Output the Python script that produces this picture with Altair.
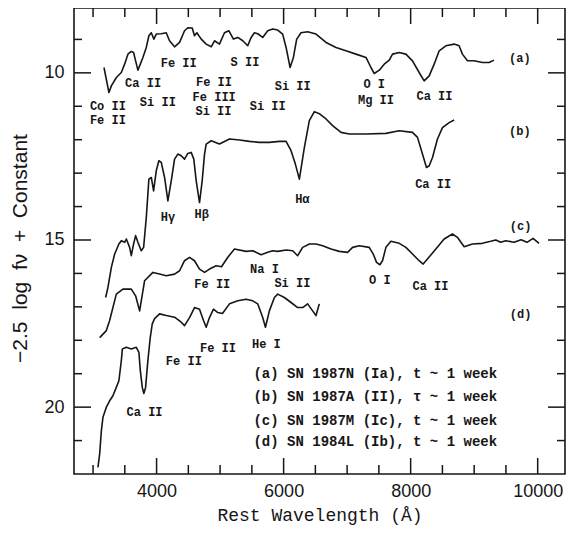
import altair as alt
import pandas as pd

# ---------------- spectra (rest wavelength in Angstrom, -2.5 log f_nu + const) -------------
a_wave = [3172, 3250, 3288, 3367, 3445, 3497, 3549, 3602, 3638, 3670, 3706, 3744, 3785, 3838, 3879, 3917, 3958, 3995, 4074, 4152,
          4204, 4283, 4362, 4440, 4492, 4561, 4597, 4634, 4703, 4781, 4860, 4912, 4990, 5069, 5137, 5210, 5278, 5357, 5435, 5489,
          5541, 5592, 5671, 5750, 5828, 5907, 5985, 6039, 6102, 6154, 6206, 6275, 6378, 6510, 6668, 6825, 6982, 7139, 7297, 7375,
          7427, 7506, 7584, 7663, 7715, 7820, 7925, 8029, 8134, 8213, 8292, 8370, 8449, 8554, 8685, 8763, 8815, 8894, 8999, 9129,
          9235, 9313]
a_mag = [9.84, 10.59, 10.39, 10.14, 9.99, 9.74, 9.44, 9.36, 9.39, 9.64, 9.92, 9.74, 9.54, 9.24, 8.89, 8.80, 8.99, 8.84, 8.83, 8.80,
         9.04, 9.22, 9.09, 8.74, 8.65, 8.66, 8.89, 8.80, 8.99, 9.14, 9.22, 9.04, 9.14, 8.80, 8.74, 8.99, 8.94, 9.04, 9.19, 8.94,
         8.80, 8.83, 8.94, 8.74, 8.69, 8.72, 8.84, 9.24, 9.84, 9.54, 8.99, 8.80, 8.77, 8.84, 9.09, 9.24, 9.34, 9.44, 9.54, 9.84,
         10.02, 9.92, 9.74, 9.62, 9.44, 9.39, 9.44, 9.64, 9.99, 10.24, 10.09, 9.74, 9.34, 9.19, 9.14, 9.19, 9.44, 9.64, 9.64, 9.69,
         9.69, 9.62]

b_wave = [3198, 3234, 3288, 3340, 3407, 3445, 3497, 3524, 3576, 3602, 3638, 3670, 3706, 3759, 3796, 3838, 3879, 3917, 3953, 3995,
          4036, 4074, 4126, 4178, 4231, 4283, 4335, 4388, 4440, 4492, 4545, 4586, 4624, 4676, 4718, 4755, 4781, 4860, 4990, 5148,
          5305, 5462, 5619, 5776, 5934, 6039, 6117, 6185, 6248, 6327, 6405, 6484, 6562, 6668, 6771, 6904, 7034, 7297, 7611, 7820,
          8029, 8108, 8186, 8249, 8292, 8344, 8422, 8501, 8606, 8685]
b_mag = [16.72, 16.42, 15.82, 15.42, 15.12, 15.02, 15.07, 14.97, 15.22, 15.47, 15.12, 14.87, 15.07, 15.32, 15.22, 14.33, 13.18, 13.13, 13.53, 12.93,
         12.63, 12.68, 13.13, 13.83, 13.23, 12.58, 12.43, 12.48, 12.58, 12.41, 12.38, 12.58, 13.23, 13.88, 13.23, 12.43, 12.13, 12.03, 12.13, 11.98,
         12.01, 12.05, 12.08, 12.08, 12.05, 12.05, 12.33, 12.73, 13.18, 12.23, 11.43, 11.16, 11.22, 11.38, 11.58, 11.78, 11.83, 11.83, 11.81, 11.73,
         11.78, 11.93, 12.43, 12.83, 12.78, 12.53, 11.98, 11.64, 11.49, 11.41]

c_wave = [3104, 3209, 3261, 3366, 3470, 3602, 3670, 3733, 3811, 3942, 4047, 4152, 4283, 4362, 4440, 4519, 4597, 4676, 4755, 4833,
          4938, 5022, 5116, 5226, 5410, 5514, 5646, 5750, 5828, 5907, 6039, 6143, 6221, 6300, 6405, 6510, 6614, 6746, 6877, 7007,
          7086, 7191, 7348, 7411, 7463, 7516, 7557, 7611, 7689, 7820, 7925, 8029, 8134, 8197, 8264, 8397, 8527, 8658, 8736, 8842,
          8972, 9129, 9261, 9340, 9418, 9497, 9628, 9738, 9832, 9927, 10021]
c_mag = [17.92, 17.71, 17.41, 16.62, 16.47, 16.47, 16.67, 17.12, 16.22, 15.97, 16.02, 16.07, 16.02, 15.92, 15.62, 15.52, 15.62, 15.87, 15.97, 15.87,
         15.77, 15.80, 15.53, 15.27, 15.34, 15.32, 15.44, 15.37, 15.32, 15.34, 15.30, 15.32, 15.47, 15.22, 15.12, 15.12, 15.17, 15.27, 15.34, 15.37,
         15.22, 15.17, 15.22, 15.42, 15.67, 15.74, 15.62, 15.22, 15.04, 15.10, 15.22, 15.42, 15.62, 15.72, 15.57, 15.27, 14.97, 14.82, 14.92, 15.20,
         15.12, 15.10, 15.04, 15.00, 15.07, 15.02, 15.07, 14.99, 15.07, 14.95, 15.10]

d_wave = [3077, 3104, 3131, 3156, 3209, 3261, 3313, 3366, 3407, 3445, 3461, 3524, 3602, 3681, 3722, 3744, 3775, 3800, 3827, 3863,
          3901, 3932, 3969, 4047, 4152, 4283, 4388, 4440, 4519, 4597, 4676, 4739, 4781, 4833, 4896, 4964, 5037, 5148, 5278, 5410,
          5514, 5592, 5671, 5714, 5776, 5855, 5907, 6012, 6117, 6221, 6300, 6378, 6457, 6510, 6562]
d_mag = [21.80, 21.40, 20.70, 20.30, 20.00, 19.81, 19.66, 19.41, 19.21, 18.61, 18.26, 18.21, 18.26, 18.21, 18.36, 18.91, 19.41, 19.59, 19.41, 18.61,
         17.91, 17.51, 17.35, 17.21, 17.26, 17.31, 17.46, 17.56, 17.32, 17.02, 17.07, 17.41, 17.61, 17.32, 17.07, 17.17, 17.20, 16.91, 16.82, 16.77,
         16.82, 16.91, 17.32, 17.61, 17.12, 16.72, 16.62, 16.72, 16.87, 17.02, 17.02, 16.91, 17.12, 17.26, 16.91]

# ---------------- line identifications ----------------
line_text = ["Co II", "Fe II", "Ca II", "Si II", "Fe II", "Fe II", "Fe III", "Si II", "S II", "Si II", "Si II",
             "O I", "Mg II", "Ca II", "(a)", "(b)", "Hγ", "Hβ", "Hα", "Ca II", "(c)",
             "Na I", "Fe II", "Si II", "O I", "Ca II", "(d)", "He I", "Fe II", "Fe II", "Ca II"]
line_wave = [3234, 3234, 3788, 4020, 4349, 4904, 4907, 4896, 5391, 5750, 6143,
             7427, 7454, 8375, 9719, 9719, 4178, 4712, 6295, 8354, 9732,
             5698, 4877, 6138, 7515, 8312, 9732, 5729, 4967, 4429, 3811]
line_mag = [10.99, 11.41, 10.29, 10.87, 9.72, 10.27, 10.72, 11.14, 9.69, 10.99, 10.39,
            10.34, 10.82, 10.69, 9.56, 11.73, 14.30, 14.21, 13.78, 13.33, 14.57,
            15.87, 16.32, 16.29, 16.20, 16.37, 17.21, 18.11, 18.22, 18.61, 20.16]

legend_text = ["(a) SN 1987N (Ia), t ~ 1 week",
               "(b) SN 1987A (II), τ ~ 1 week",
               "(c) SN 1987M (Ic), t ~ 1 week",
               "(d) SN 1984L (Ib), t ~ 1 week"]
legend_wave = [5525, 5525, 5525, 5525]
legend_mag = [19.01, 19.71, 20.40, 21.05]

# ---------------- axes / ticks ----------------
x_domain = [2700, 10430]
y_domain = [8.06, 22.0]
x_labels = [4000, 6000, 8000, 10000]
x_minor = [3000, 3500, 4500, 5000, 5500, 6500, 7000, 7500, 8500, 9000, 9500]
y_labels = [10, 15, 20]
y_minor = [9, 11, 12, 13, 14, 16, 17, 18, 19, 21]

W, H = 491, 466
INK = "#161616"
NB = "\u00a0"

rows = []
for name, ws, ms in (("a", a_wave, a_mag), ("b", b_wave, b_mag), ("c", c_wave, c_mag), ("d", d_wave, d_mag)):
    for i, (w, m) in enumerate(zip(ws, ms)):
        rows.append({"spec": name, "i": i, "wave": w, "mag": m})
spec_df = pd.DataFrame(rows)
lab_df = pd.DataFrame({"text": line_text, "wave": line_wave, "mag": line_mag})
leg_df = pd.DataFrame({"text": legend_text, "wave": legend_wave, "mag": legend_mag})

y_title = f"−2.5{NB} log{NB} fν{NB} +{NB} Constant"

x_axis = alt.Axis(values=x_labels, format="d", ticks=False, domain=False, grid=False,
                  labelFont="Liberation Sans", labelFontSize=18, labelColor=INK, labelPadding=8,
                  title="Rest Wavelength (Å)", titleFont="Liberation Mono", titleFontSize=18,
                  titleFontWeight="normal", titleColor=INK, titlePadding=6)
y_axis = alt.Axis(values=y_labels, format="d", ticks=False, domain=False, grid=False,
                  labelFont="Liberation Sans", labelFontSize=18, labelColor=INK, labelPadding=10,
                  title=y_title, titleFont="Liberation Sans", titleFontSize=21,
                  titleFontWeight="normal", titleColor=INK, titleX=-54, titleY=240,
                  titleBaseline="middle", titleAngle=270)


def xs():
    return alt.X("wave:Q", scale=alt.Scale(domain=x_domain, nice=False, zero=False), axis=x_axis)


def ys():
    return alt.Y("mag:Q", scale=alt.Scale(domain=y_domain, reverse=True, nice=False, zero=False), axis=y_axis)


spectra = alt.Chart(spec_df).mark_line(color=INK, strokeWidth=1.6, strokeJoin="round").encode(
    x=xs(), y=ys(), detail="spec:N", order="i:Q")


def xticks(vals, y0, y1):
    return alt.Chart(pd.DataFrame({"wave": vals})).mark_rule(color=INK, strokeWidth=1.5).encode(
        x=xs(), y=alt.value(y0), y2=alt.value(y1))


def yticks(vals, x0, x1):
    return alt.Chart(pd.DataFrame({"mag": vals})).mark_rule(color=INK, strokeWidth=1.5).encode(
        y=ys(), x=alt.value(x0), x2=alt.value(x1))


ticks = [
    xticks(x_labels, H, H - 16), xticks(x_minor, H, H - 9),
    xticks(x_labels, 0, 16), xticks(x_minor, 0, 9),
    yticks(y_labels, 0, 17), yticks(y_minor, 0, 8),
    yticks(y_labels, W, W - 17), yticks(y_minor, W, W - 8),
]

labels = alt.Chart(lab_df).mark_text(font="Liberation Mono", fontSize=12, fontWeight="bold",
                                     color=INK, align="center", baseline="middle").encode(
    x=xs(), y=ys(), text="text:N")

legend = alt.Chart(leg_df).mark_text(font="Liberation Mono", fontSize=14, fontWeight="bold",
                                     color=INK, align="left", baseline="middle").encode(
    x=xs(), y=ys(), text="text:N")

chart = alt.layer(spectra, *ticks, labels, legend).properties(
    width=W, height=H,
    background="white",
    autosize=alt.AutoSizeParams(type="none"),
    padding={"left": 66, "top": 0, "right": 5, "bottom": 55},
).configure_view(stroke=INK, strokeWidth=1.6)

chart.save("out.html", embed_options={"renderer": "svg", "actions": False})
